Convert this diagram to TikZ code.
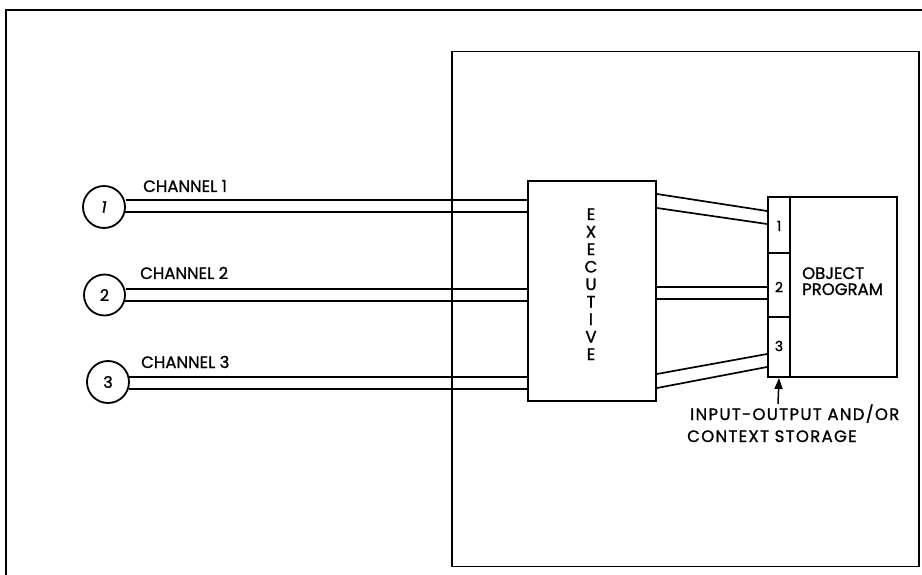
\documentclass[tikz,border=0pt]{standalone}
\usepackage{fontspec}
\setmainfont{Poppins}[FakeBold=0.1]
\newcommand{\heavy}{\addfontfeature{FakeBold=1.2}}
\usetikzlibrary{arrows.meta}
\begin{document}
\begin{tikzpicture}[x=1pt,y=-1pt,
  ln/.style={line width=1.9pt},
  thin/.style={line width=1.7pt},
  lbl/.style={font=\fontsize{16.5}{18}\selectfont\heavy, inner sep=0pt},
  sml/.style={font=\fontsize{14}{16}\selectfont\heavy, inner sep=0pt},
  ring/.style={draw, circle, line width=1.8pt, inner sep=0pt, font=\fontsize{16}{18}\selectfont\heavy},
  box/.style={draw, line width=1.9pt, inner sep=0pt}]
\useasboundingbox (0,0) rectangle (922,575);
\begin{scope}
\clip (0,0) rectangle (922,575);
\draw[ln] (6,580) -- (6,10) -- (930,10);
\end{scope}
% inner box
\node[box, minimum width=467pt, minimum height=515pt] (sys) at (685.5,309) {};
% channels
\node[ring, minimum size=42pt] (c1) at (104,207) {\itshape 1};
\node[ring, minimum size=41pt] (c2) at (104.5,295) {2};
\node[ring, minimum size=42pt] (c3) at (108,382) {3};
% executive
\node[box, minimum width=128pt, minimum height=220pt] (ex) at (592,291) {};
\foreach \l [count=\i from 0] in {E,X,E,C,U,T,I,V,E}
  \node[lbl, anchor=base] (e\i) at (591,220+17.5*\i) {\l};
% storage and object program
\node[box, minimum width=129pt, minimum height=180pt] (op) at (832.5,287) {};
\draw[ln] (790,197) -- (790,377);
\draw[thin] (768,253) -- (790,253);
\draw[thin] (768,317) -- (790,317);
\node[sml] (n1) at (779,226) {1};
\node[sml] (n2) at (779,287) {2};
\node[sml] (n3) at (779,346) {3};
\node[lbl, anchor=base west] (opt1) at (802,279) {OBJECT};
\node[lbl, anchor=base west] (opt2) at (802,295) {PROGRAM};
% channel lines left
\draw[thin] (c1.east |- 0,200) -- (ex.west |- 0,200);
\draw[thin] (124.5,212) -- (ex.west |- 0,212);
\draw[thin] (c2.east |- 0,289) -- (ex.west |- 0,289);
\draw[thin] (124,301) -- (ex.west |- 0,301);
\draw[thin] (128.5,377) -- (ex.west |- 0,377);
\draw[thin] (128.5,389) -- (ex.west |- 0,389);
% channel lines right
\draw[thin] (ex.east |- 0,194) -- (op.west |- 0,211);
\draw[thin] (ex.east |- 0,208) -- (op.west |- 0,224);
\draw[thin] (ex.east |- 0,287) -- (op.west |- 0,287);
\draw[thin] (ex.east |- 0,299) -- (op.west |- 0,299);
\draw[thin] (ex.east |- 0,374) -- (op.west |- 0,354);
\draw[thin] (ex.east |- 0,388) -- (op.west |- 0,367);
% labels
\node[lbl, anchor=base west] (l1) at (143,192) {CHANNEL 1};
\node[lbl, anchor=base west] (l2) at (140,279) {CHANNEL 2};
\node[lbl, anchor=base west] (l3) at (141,368) {CHANNEL 3};
% arrow
\node[lbl, anchor=base west] (io1) at (690,420) {\addfontfeature{LetterSpace=8}INPUT-OUTPUT AND/OR};
\node[lbl, anchor=base west] (io2) at (687,442) {\addfontfeature{LetterSpace=8}CONTEXT STORAGE};
\draw[line width=1.5pt, -{Triangle[length=11pt,width=8pt]}] (778,404) -- (n3.south |- op.south);
\end{tikzpicture}
\end{document}
